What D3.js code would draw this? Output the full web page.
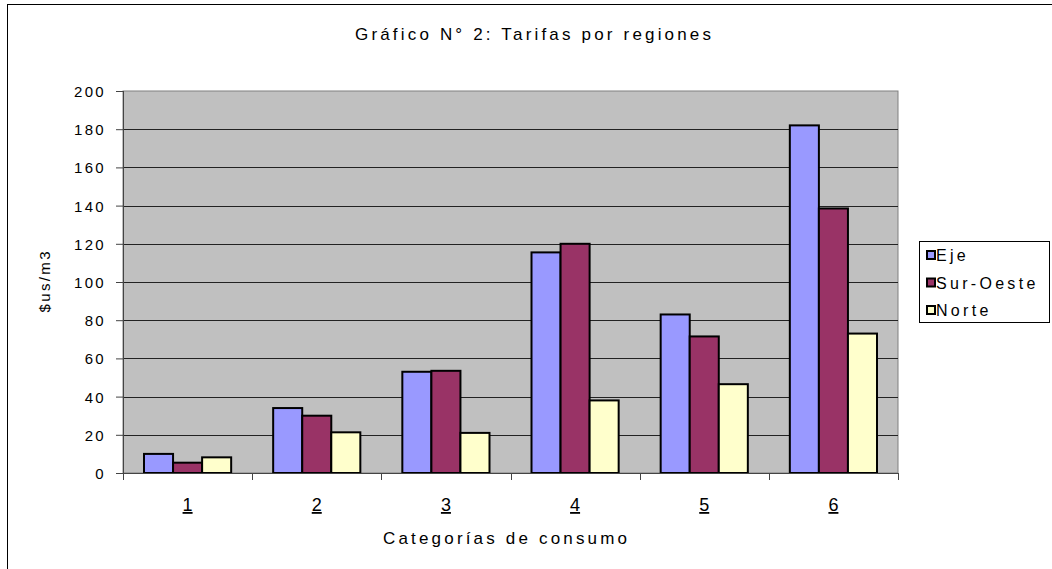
<!DOCTYPE html>
<html lang="en">
<head>
  <meta charset="UTF-8">
  <title>Tarifas por regiones</title>
  <script src="https://d3js.org/d3.v7.min.js"></script>
  <style>
    body { margin: 0; background: #fff; }
    text { font-family: "Liberation Sans", Arial, sans-serif; fill: #000; }
  </style>
</head>
<body>
  <script>
    var categories = ["1", "2", "3", "4", "5", "6"];
    var seriesNames = ["Eje", "Sur-Oeste", "Norte"];
    var eje = [10, 34, 53, 115.5, 83, 182];
    var surOeste = [5.4, 30, 53.5, 120, 71.5, 138.5];
    var norte = [8.2, 21.3, 21, 38, 46.5, 73];
    var colors = ["#9999ff", "#993366", "#ffffcc"];
    var yTicks = [0, 20, 40, 60, 80, 100, 120, 140, 160, 180, 200];

    var series = [eje, surOeste, norte];

    var width = 1052, height = 569;
    var margin = { top: 91, left: 123, right: 154, bottom: 96 };
    var plotW = width - margin.left - margin.right;
    var plotH = height - margin.top - margin.bottom;

    var svg = d3.select("body").append("svg")
      .attr("width", width)
      .attr("height", height);

    // outer chart frame
    svg.append("rect")
      .attr("x", 7.5).attr("y", 4.5)
      .attr("width", width).attr("height", height)
      .attr("fill", "none").attr("stroke", "#000").attr("stroke-width", 1);

    var x0 = d3.scaleBand().domain(categories).range([0, plotW]);
    var x1 = d3.scaleBand().domain(d3.range(3)).range([21, x0.bandwidth() - 21]);
    var y = d3.scaleLinear().domain([0, 200]).range([plotH, 0]);

    var g = svg.append("g").attr("transform", "translate(" + margin.left + "," + margin.top + ")");

    g.append("rect")
      .attr("width", plotW).attr("height", plotH)
      .attr("fill", "#c0c0c0").attr("stroke", "#808080").attr("stroke-width", 1);

    g.selectAll(".grid").data(yTicks.slice(1, -1)).enter().append("line")
      .attr("x1", 0).attr("x2", plotW)
      .attr("y1", d => Math.round(y(d)) + 0.5).attr("y2", d => Math.round(y(d)) + 0.5)
      .attr("stroke", "#222").attr("stroke-width", 1);

    // bars
    var groups = g.selectAll(".cat").data(categories).enter().append("g")
      .attr("transform", d => "translate(" + x0(d) + ",0)");
    groups.selectAll("rect").data((d, i) => series.map((s, j) => ({ j: j, v: s[i] })))
      .enter().append("rect")
      .attr("x", d => x1(d.j))
      .attr("y", d => y(d.v))
      .attr("width", x1.bandwidth())
      .attr("height", d => plotH - y(d.v))
      .attr("fill", d => colors[d.j])
      .attr("stroke", "#000").attr("stroke-width", 2);

    // y axis
    var yAxis = g.append("g").call(d3.axisLeft(y).tickValues(yTicks).tickSize(7).tickPadding(10));
    yAxis.select(".domain").attr("stroke", "#444").attr("d", "M0.5,0V" + plotH);
    yAxis.selectAll(".tick line").attr("stroke", "#444");
    yAxis.selectAll("text").attr("font-family", null).attr("dy", "0.36em")
      .style("font-size", "15px").style("letter-spacing", "2.3px");

    // x axis
    var xAxisG = g.append("g").attr("transform", "translate(0," + plotH + ")");
    xAxisG.append("line").attr("x1", -7).attr("x2", plotW).attr("y1", 0.5).attr("y2", 0.5).attr("stroke", "#444");
    xAxisG.selectAll(".xt").data(d3.range(categories.length + 1)).enter().append("line")
      .attr("x1", d => Math.round(d * x0.bandwidth()) + 0.5)
      .attr("x2", d => Math.round(d * x0.bandwidth()) + 0.5)
      .attr("y1", 0).attr("y2", 7).attr("stroke", "#444");
    xAxisG.selectAll(".xl").data(categories).enter().append("text")
      .attr("x", d => x0(d) + x0.bandwidth() / 2)
      .attr("y", 38)
      .attr("text-anchor", "middle")
      .style("font-size", "18px")
      .style("text-decoration", "underline")
      .text(d => d);

    // titles
    svg.append("text")
      .attr("x", 533).attr("y", 40)
      .attr("text-anchor", "middle")
      .attr("textLength", 356).attr("lengthAdjust", "spacing")
      .style("font-size", "17px")
      .text("Gráfico N° 2: Tarifas por regiones");

    svg.append("text")
      .attr("x", 505).attr("y", 544)
      .attr("text-anchor", "middle")
      .attr("textLength", 244).attr("lengthAdjust", "spacing")
      .style("font-size", "17px")
      .text("Categorías de consumo");

    svg.append("text")
      .attr("transform", "translate(50,282) rotate(-90)")
      .attr("text-anchor", "middle")
      .attr("textLength", 61).attr("lengthAdjust", "spacing")
      .style("font-size", "15px")
      .text("$us/m3");

    // legend
    var legend = svg.append("g").attr("transform", "translate(919,241)");
    legend.append("rect").attr("x", 0.5).attr("y", 0.5).attr("width", 130).attr("height", 81)
      .attr("fill", "#fff").attr("stroke", "#000");
    var items = legend.selectAll(".li").data(seriesNames).enter().append("g")
      .attr("transform", (d, i) => "translate(8," + (10 + i * 27.5) + ")");
    items.append("rect").attr("width", 8).attr("height", 8)
      .attr("fill", (d, i) => colors[i]).attr("stroke", "#000").attr("stroke-width", 2);
    items.append("text").attr("x", 9).attr("y", 10)
      .style("font-size", "16px").style("letter-spacing", "3.3px")
      .text(d => d);
  </script>
</body>
</html>
